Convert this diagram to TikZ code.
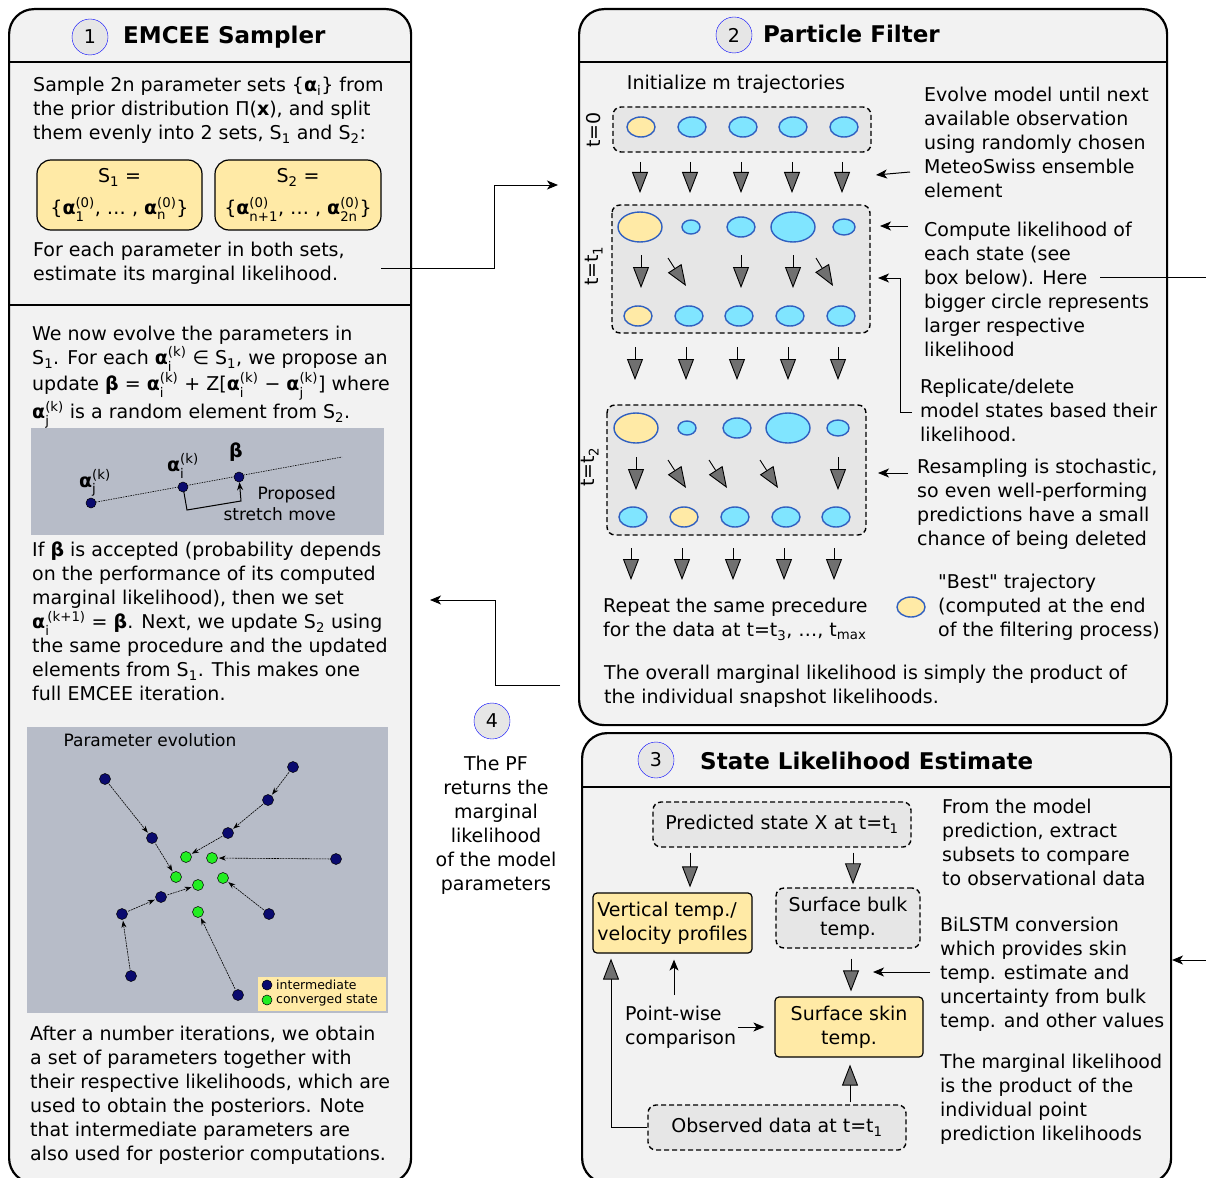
\documentclass[tikz,border=0pt]{standalone}
\usepackage{amsmath}
\usepackage{fontspec}
\setmainfont{DejaVu Sans}
\usetikzlibrary{arrows.meta}

\definecolor{boxgray}{HTML}{F2F2F2}
\definecolor{dashgray}{HTML}{E6E6E6}
\definecolor{paleyellow}{HTML}{FFEAA6}
\definecolor{lightcyan}{HTML}{80E5FF}
\definecolor{ellblue}{HTML}{3060C0}
\definecolor{panelgray}{HTML}{B7BCC8}
\definecolor{navydot}{HTML}{0A0A6E}
\definecolor{limedot}{HTML}{22EE22}
\definecolor{headgray}{HTML}{707070}

\newcommand{\bodyfont}{\fontsize{19}{24}\selectfont}
\newcommand{\titlefont}{\fontsize{23}{28}\selectfont\bfseries}
\newcommand{\labelfont}{\fontsize{17}{21}\selectfont}
\newcommand{\legendfont}{\fontsize{12.5}{15}\selectfont}
\newcommand{\alp}[2]{{\bfseries α}$^{\text{#1}}_{\text{#2}}$}
\newcommand{\betab}{{\bfseries β}}
\newcommand{\lowidx}[1]{$_{\text{#1}}$}

\begin{document}
\begin{tikzpicture}[x=1pt,y=-1pt,
  bigbox/.style={draw,line width=2.2pt,fill=boxgray,rounded corners=25pt,anchor=north west,inner sep=0pt},
  sepline/.style={line width=2.2pt},
  numcirc/.style={circle,draw=blue,fill=dashgray,minimum size=36pt,inner sep=0pt,font=\bodyfont},
  headline/.style={anchor=west,inner sep=0pt,font=\titlefont},
  ptext/.style={anchor=north west,inner sep=0pt,align=left,font=\bodyfont},
  setbox/.style={draw,line width=1.2pt,fill=paleyellow,rounded corners=14pt,align=center,font=\bodyfont,inner sep=0pt},
  panel/.style={fill=panelgray},
  ndot/.style={circle,draw=black,line width=0.5pt,fill=navydot,minimum size=11pt,inner sep=0pt},
  gdot/.style={circle,draw=black,line width=0.5pt,fill=limedot,minimum size=11pt,inner sep=0pt},
  evarrow/.style={line width=0.6pt,dash pattern=on 2pt off 0.8pt,-{Stealth[length=7pt,width=5pt]},shorten >=1pt,shorten <=1pt},
  trajbox/.style={draw,line width=1.4pt,dash pattern=on 5pt off 3pt,fill=dashgray,rounded corners=8pt},
  bell/.style={draw=ellblue,line width=1.4pt,fill=lightcyan},
  yell/.style={draw=ellblue,line width=1.4pt,fill=paleyellow},
  garrow/.style={line width=0.9pt,-{Triangle[length=21pt,width=16pt,fill=headgray]}},
  sarrow/.style={line width=1pt,-{Stealth[length=11pt,width=9pt,inset=3pt]}},
  dbox/.style={draw,line width=1.4pt,dash pattern=on 5pt off 3pt,fill=dashgray,rounded corners=8pt,align=center,font=\bodyfont,inner sep=0pt},
  ybox/.style={draw,line width=1.2pt,fill=paleyellow,rounded corners=4pt,font=\bodyfont,inner sep=0pt}]

  \useasboundingbox (0,0) rectangle (1206,1177);
  \fill[white] (0,0) rectangle (1206,1177);

  %emcee sampler
  \node[bigbox,minimum width=402pt,minimum height=1174pt] (emcee) at (8,8) {};
  \draw[sepline] (8,62) -- (410,62);
  \draw[sepline] (8,305) -- (410,305);
  \node[numcirc] (n1) at (90,37) {1};
  \node[headline] (h1) at (123,37) {EMCEE Sampler};
  \node[ptext] (prior) at (33,77) {Sample 2n parameter sets \{{\bfseries α}\lowidx{i}\} from\\the prior distribution Π(\textbf{x}), and split\\them evenly into 2 sets, S\lowidx{1} and S\lowidx{2}:};
  \node[setbox,minimum width=165pt,minimum height=70pt] (sa) at (119.5,195) {S\lowidx{1} =\\[8pt]\{\alp{(0)}{1}, … , \alp{(0)}{n}\}};
  \node[setbox,minimum width=166pt,minimum height=70pt] (sb) at (298,195) {S\lowidx{2} =\\[8pt]\{\alp{(0)}{n+1}, … , \alp{(0)}{2n}\}};
  \node[ptext] (each) at (33,242) {For each parameter in both sets,\\estimate its marginal likelihood.};
  \coordinate (c1out) at (381,268);

  %stretch move
  \node[ptext] (evolve) at (32,326) {We now evolve the parameters in\\S\lowidx{1}. For each \alp{(k)}{i} ∈ S\lowidx{1}, we propose an\\update \betab\ = \alp{(k)}{i} + Z[\alp{(k)}{i} − \alp{(k)}{j}] where\\\alp{(k)}{j} is a random element from S\lowidx{2}.};
  \fill[panel] (31,428) rectangle (384,535);
  \coordinate (send) at (342,457);
  \draw[line width=0.6pt,dash pattern=on 1.5pt off 1pt] (91,503) -- (send);
  \node[ndot,minimum size=10pt] (aj) at (91,503) {};
  \node[ndot,minimum size=10pt] (ai) at (183,487) {};
  \node[ndot,minimum size=10pt] (be) at (239,477) {};
  \node[font=\bodyfont,inner sep=0pt] (lj) at (95,483) {\alp{(k)}{j}};
  \node[font=\bodyfont,inner sep=0pt] (li) at (183,466) {\alp{(k)}{i}};
  \node[font=\bodyfont,inner sep=0pt] (lb) at (236,452) {\betab};
  \coordinate (k1) at (187,510);
  \coordinate (k2) at (241,501);
  \draw[line width=1pt,-{Stealth[length=8pt,width=6pt]}] (ai) -- (k1) -- (k2) -- (be);
  \node[anchor=north east,align=right,font=\labelfont,inner sep=0pt] (stretch) at (336,486) {Proposed\\stretch move};
  \node[ptext] (accept) at (32,542) {If \betab\ is accepted (probability depends\\on the performance of its computed\\marginal likelihood), then we set\\\alp{\,(k+1)}{i} = \betab. Next, we update S\lowidx{2} using\\the same procedure and the updated\\elements from S\lowidx{1}. This makes one\\full EMCEE iteration.};

  %parameter evolution
  \fill[panel] (27,727) rectangle (388,1013);
  \node[font=\labelfont,inner sep=0pt] (evo) at (150,740) {Parameter evolution};
  \node[ndot] (pa) at (105,779) {};
  \node[ndot] (pb) at (152,838) {};
  \node[ndot] (pc) at (293,767) {};
  \node[ndot] (pd) at (268,800) {};
  \node[ndot] (pe) at (228,833) {};
  \node[ndot] (pf) at (336,859) {};
  \node[ndot] (pg) at (161,897) {};
  \node[ndot] (ph) at (122,914) {};
  \node[ndot] (pi) at (131,976) {};
  \node[ndot] (pj) at (269,914) {};
  \node[ndot] (pk) at (238,995) {};
  \node[gdot] (g1) at (186,857) {};
  \node[gdot] (g2) at (212,858) {};
  \node[gdot] (g3) at (176,877) {};
  \node[gdot] (g4) at (198,885) {};
  \node[gdot] (g5) at (223,878) {};
  \node[gdot] (g6) at (198,912) {};
  \draw[evarrow] (pa) -- (pb);
  \draw[evarrow] (pb) -- (g3);
  \draw[evarrow] (pc) -- (pd);
  \draw[evarrow] (pd) -- (pe);
  \draw[evarrow] (pe) -- (g1);
  \draw[evarrow] (pf) -- (g2);
  \draw[evarrow] (pj) -- (g5);
  \draw[evarrow] (pi) -- (ph);
  \draw[evarrow] (ph) -- (pg);
  \draw[evarrow] (pg) -- (g4);
  \draw[evarrow] (pk) -- (g6);
  %legend
  \fill[paleyellow] (258,977) rectangle (386,1011);
  \node[ndot,minimum size=10pt] (ldn) at (267,985) {};
  \node[gdot,minimum size=10pt] (ldg) at (267,1000) {};
  \node[anchor=west,inner sep=0pt,font=\legendfont] (lin) at (276,985) {intermediate};
  \node[anchor=west,inner sep=0pt,font=\legendfont] (lcv) at (276,1000) {converged state};
  \node[ptext] (after) at (30,1026) {After a number iterations, we obtain\\a set of parameters together with\\their respective likelihoods, which are\\used to obtain the posteriors. Note\\that intermediate parameters are\\also used for posterior computations.};

  %step 4
  \node[numcirc] (n4) at (492,721) {4};
  \node[anchor=north,align=center,font=\bodyfont,inner sep=0pt] (pfret) at (496,756) {The PF\\returns the\\marginal\\likelihood\\of the model\\parameters};

  %particle filter
  \node[bigbox,minimum width=588pt,minimum height=716pt] (pfbox) at (578,8) {};
  \draw[sepline] (578,62) -- (1166,62);
  \node[numcirc] (n2) at (734,35) {2};
  \node[headline] (h2) at (763,34) {Particle Filter};
  \node[font=\bodyfont,inner sep=0pt] (init) at (736,84) {Initialize m trajectories};

  %t=0
  \draw[trajbox] (613,107) rectangle (871,152);
  \node[font=\bodyfont,inner sep=0pt,rotate=90] (lt0) at (594,130) {t=0};
  \draw[yell] (641,127) ellipse [x radius=14,y radius=10];
  \draw[bell] (692,127) ellipse [x radius=14,y radius=10];
  \draw[bell] (743,127) ellipse [x radius=14,y radius=10];
  \draw[bell] (793,127) ellipse [x radius=14,y radius=10];
  \draw[bell] (844,127) ellipse [x radius=14,y radius=10];
  \draw[garrow] (640,162) -- (640,193);
  \draw[garrow] (690,162) -- (690,193);
  \draw[garrow] (741,162) -- (741,193);
  \draw[garrow] (792,162) -- (792,193);
  \draw[garrow] (842,162) -- (842,193);

  %t=t1
  \draw[trajbox] (612,205) rectangle (870,333);
  \node[font=\bodyfont,inner sep=0pt,rotate=90] (lt1) at (594,266) {t=t\lowidx{1}};
  \draw[yell] (640,227) ellipse [x radius=22,y radius=15];
  \draw[bell] (691,227) ellipse [x radius=9,y radius=7];
  \draw[bell] (741,227) ellipse [x radius=14,y radius=10];
  \draw[bell] (793,227) ellipse [x radius=22,y radius=15];
  \draw[bell] (844,227) ellipse [x radius=11,y radius=8];
  \draw[garrow] (641,255) -- (641,288);
  \draw[garrow] (668,258) -- (686,286);
  \draw[garrow] (741,255) -- (741,288);
  \draw[garrow] (793,255) -- (793,288);
  \draw[garrow] (816,258) -- (833,286);
  \draw[yell] (638,316) ellipse [x radius=14,y radius=10];
  \draw[bell] (689,316) ellipse [x radius=14,y radius=10];
  \draw[bell] (739,316) ellipse [x radius=14,y radius=10];
  \draw[bell] (790,316) ellipse [x radius=14,y radius=10];
  \draw[bell] (841,316) ellipse [x radius=14,y radius=10];
  \draw[garrow] (635,347) -- (635,380);
  \draw[garrow] (686,347) -- (686,380);
  \draw[garrow] (737,347) -- (737,380);
  \draw[garrow] (788,347) -- (788,380);
  \draw[garrow] (838,347) -- (838,380);

  %t=t2
  \draw[trajbox] (607,405) rectangle (866,535);
  \node[font=\bodyfont,inner sep=0pt,rotate=90] (lt2) at (590,467) {t=t\lowidx{2}};
  \draw[yell] (636,428) ellipse [x radius=22,y radius=15];
  \draw[bell] (687,428) ellipse [x radius=9,y radius=7];
  \draw[bell] (737,428) ellipse [x radius=14,y radius=10];
  \draw[bell] (788,428) ellipse [x radius=22,y radius=15];
  \draw[bell] (838,428) ellipse [x radius=11,y radius=8];
  \draw[garrow] (636,457) -- (636,490);
  \draw[garrow] (668,460) -- (686,488);
  \draw[garrow] (709,460) -- (727,488);
  \draw[garrow] (760,460) -- (778,488);
  \draw[garrow] (838,457) -- (838,490);
  \draw[bell] (633,517) ellipse [x radius=14,y radius=10];
  \draw[yell] (684,517) ellipse [x radius=14,y radius=10];
  \draw[bell] (735,517) ellipse [x radius=14,y radius=10];
  \draw[bell] (786,517) ellipse [x radius=14,y radius=10];
  \draw[bell] (836,517) ellipse [x radius=14,y radius=10];
  \draw[garrow] (631,548) -- (631,580);
  \draw[garrow] (682,548) -- (682,580);
  \draw[garrow] (733,548) -- (733,580);
  \draw[garrow] (784,548) -- (784,580);
  \draw[garrow] (834,548) -- (834,580);

  %side notes
  \node[ptext] (evolvenote) at (924,87) {Evolve model until next\\available observation\\using randomly chosen\\MeteoSwiss ensemble\\element};
  \node[ptext] (computenote) at (924,222) {Compute likelihood of\\each state (see\\box below). Here\\bigger circle represents\\larger respective\\likelihood};
  \node[ptext] (replnote) at (920,379) {Replicate/delete\\model states based their\\likelihood.};
  \node[ptext] (resnote) at (917,459) {Resampling is stochastic,\\so even well-performing\\predictions have a small\\chance of being deleted};
  \coordinate (ev1) at (910,172); \coordinate (ev2) at (876,175);
  \coordinate (cp1) at (908,226); \coordinate (cp2) at (880,226);
  \coordinate (rp1) at (912,412); \coordinate (rp2) at (878,278);
  \coordinate (rs1) at (908,473); \coordinate (rs2) at (878,473);
  \draw[sarrow] (ev1) -- (ev2);
  \draw[sarrow] (cp1) -- (cp2);
  \draw[sarrow] (rp1) -- (900,412) -- (900,278) -- (rp2);
  \draw[sarrow] (rs1) -- (rs2);
  \coordinate (toslE) at (1100,277); \coordinate (edgeE) at (1206,277);
  \draw[line width=1pt] (toslE) -- (edgeE);

  \node[ptext] (repeat) at (603,598) {Repeat the same precedure\\for the data at t=t\lowidx{3}, …, t\lowidx{max}};
  \draw[yell] (911,607) ellipse [x radius=14,y radius=10];
  \node[ptext] (best) at (938,574) {\textquotedbl Best\textquotedbl\ trajectory\\(computed at the end\\of the filtering process)};
  \node[ptext] (overall) at (604,665) {The overall marginal likelihood is simply the product of\\the individual snapshot likelihoods.};

  %state likelihood estimate
  \node[bigbox,minimum width=589pt,minimum height=450pt] (slbox) at (581,732) {};
  \draw[sepline] (581,787) -- (1170,787);
  \node[numcirc] (n3) at (656,760) {3};
  \node[headline] (h3) at (700,761) {State Likelihood Estimate};
  \node[dbox,minimum width=258pt,minimum height=45pt] (pred) at (782,824.5) {Predicted state X at t=t\lowidx{1}};
  \node[ybox,minimum width=159pt,minimum height=60pt,align=left] (vert) at (672.5,923) {Vertical temp./\\velocity profiles};
  \node[dbox,minimum width=144pt,minimum height=60pt] (bulk) at (848,918) {Surface bulk\\temp.};
  \node[ybox,minimum width=148pt,minimum height=60pt,align=center] (skin) at (849,1027) {Surface skin\\temp.};
  \node[dbox,minimum width=258pt,minimum height=45pt] (obs) at (777,1127.5) {Observed data at t=t\lowidx{1}};
  \node[ptext] (ptwise) at (625,1006) {Point-wise\\comparison};
  \draw[garrow,shorten <=5pt,shorten >=5pt] (pred.south -| 690,0) -- (vert.north -| 690,0);
  \draw[garrow,shorten <=5pt,shorten >=3pt] (pred.south -| 853,0) -- (bulk.north -| 853,0);
  \draw[garrow,shorten <=10pt,shorten >=5pt] (bulk.south -| 851,0) -- (skin.north -| 851,0);
  \draw[garrow,shorten <=2pt,shorten >=7pt] (obs.north -| 850,0) -- (skin.south -| 850,0);
  \draw[garrow,shorten >=5pt] (obs.west) -| (vert.south -| 611,0);
  \draw[sarrow,shorten <=11pt,shorten >=6pt] (ptwise.north -| 674,0) -- (vert.south -| 674,0);
  \draw[sarrow,shorten <=2pt,shorten >=10pt] (ptwise.east |- skin.west) -- (skin.west);
  \node[ptext] (extract) at (942,799) {From the model\\prediction, extract\\subsets to compare\\to observational data};
  \node[ptext] (bilstm) at (940,917) {BiLSTM conversion\\which provides skin\\temp. estimate and\\uncertainty from bulk\\temp. and other values};
  \node[ptext] (product) at (940,1054) {The marginal likelihood\\is the product of the\\individual point\\prediction likelihoods};
  \coordinate (bl1) at (930,972); \coordinate (bl2) at (873,972);
  \draw[sarrow] (bl1) -- (bl2);
  \coordinate (edgeW) at (1206,960); \coordinate (slin) at (1172,960);
  \draw[sarrow] (edgeW) -- (slin);

  %connections between boxes
  \coordinate (c1in) at (558,185);
  \draw[sarrow] (c1out) -- ++(113,0) |- (c1in);
  \coordinate (pfout) at (560,685);
  \coordinate (pfin) at (430,600);
  \draw[sarrow] (pfout) -- ++(-65,0) |- (pfin);
\end{tikzpicture}
\end{document}
